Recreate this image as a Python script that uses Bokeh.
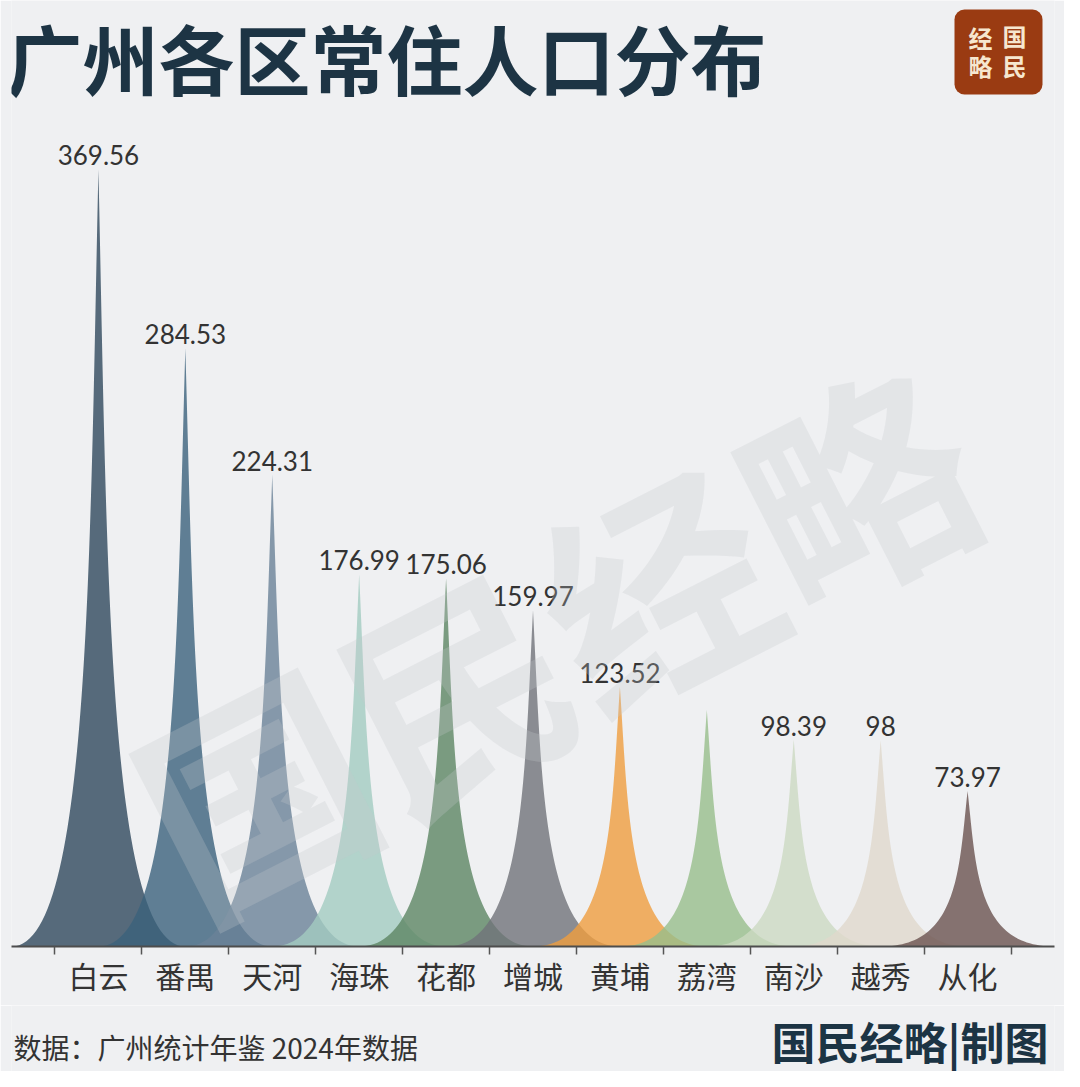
import numpy as np
from bokeh.plotting import figure
from bokeh.layouts import column
from bokeh.models import (ColumnDataSource, Range1d, LinearAxis, FixedTicker,
                          Label, BoxAnnotation)
from bokeh.core.properties import value
from bokeh.embed import file_html
from bokeh.resources import INLINE

# ---- data ----
districts = ["白云", "番禺", "天河", "海珠", "花都", "增城", "黄埔", "荔湾", "南沙", "越秀", "从化"]
population = [369.56, 284.53, 224.31, 176.99, 175.06, 159.97, 123.52, 112.5, 98.39, 98.0, 73.97]
value_labels = ["369.56", "284.53", "224.31", "176.99", "175.06", "159.97", "123.52", "", "98.39", "98", "73.97"]
colors = ["#30485d", "#3b617c", "#6a8297", "#a3ccc1", "#5d8663", "#717379",
          "#ef9d3e", "#97be8b", "#ccd9c2", "#e0d8cc", "#6a524f"]
title_text = "广州各区常住人口分布"
source_text = "数据：广州统计年鉴 2024年数据"
credit_text = "国民经略|制图"

BG = "#eff0f2"
W = 1064
H_MAIN = 1005
H_FOOT = 66

p = figure(width=W, height=H_MAIN, output_backend="svg", toolbar_location=None,
           x_range=Range1d(-1, 11), y_range=Range1d(0, 449.9),
           min_border_left=11, min_border_right=10, min_border_top=0, min_border_bottom=H_MAIN - 946,
           x_axis_location=None, y_axis_location=None)
p.background_fill_color = BG
p.border_fill_color = BG
p.outline_line_color = None
p.grid.visible = False

# spike (pictorial) shapes built from each value: cubic bezier sides
t = np.linspace(0, 1, 60)
half_w = 1.0
xs, ys = [], []
for i, h in enumerate(population):
    rx = half_w * ((1 - t) ** 3 + 0.3 * t * (1 - t))
    ry = h * (1.5 * (1 - t) * t ** 2 + t ** 3)
    x = np.concatenate([i + rx, (i - rx)[::-1]])
    y = np.concatenate([ry, ry[::-1]])
    xs.append(x.tolist())
    ys.append(y.tolist())

src = ColumnDataSource(dict(xs=xs, ys=ys, color=colors))
p.patches("xs", "ys", source=src, fill_color="color", fill_alpha=0.8, line_color=None)

# value labels
lsrc = ColumnDataSource(dict(x=list(range(len(districts))), y=population, text=value_labels))
p.text("x", "y", text="text", source=lsrc, text_align="center", text_baseline="alphabetic",
       y_offset=-14, text_font=value("Lato"), text_font_size="26px", text_color="#333333")

# category axis
ax = LinearAxis(ticker=FixedTicker(ticks=list(range(len(districts))),
                                   minor_ticks=[i - 0.5 for i in range(len(districts) + 1)]))
ax.major_label_overrides = {i: d for i, d in enumerate(districts)}
ax.major_tick_out = 0
ax.major_tick_in = 0
ax.minor_tick_out = 8
ax.minor_tick_in = 0
ax.minor_tick_line_color = "#555555"
ax.minor_tick_line_width = 1.5
ax.axis_line_color = "#4d4d4d"
ax.axis_line_width = 2
ax.major_label_text_font = "Noto Sans CJK SC"
ax.major_label_text_font_size = "30px"
ax.major_label_text_color = "#333333"
ax.major_label_standoff = -2
p.add_layout(ax, "below")

# watermark
p.add_layout(Label(x=541, y=314, x_units="screen", y_units="screen", text="国民经略",
                   angle=27, angle_units="deg", text_align="center", text_baseline="middle",
                   text_font="Noto Sans CJK SC", text_font_style="bold", text_font_size="225px",
                   text_color="#c3c7cd", text_alpha=0.27))

# title
p.add_layout(Label(x=-5, y=890, x_units="screen", y_units="screen", text=title_text,
                   text_baseline="middle", text_font="Noto Sans CJK SC", text_font_style="bold",
                   text_font_size="76px", text_color="#1d3444"))

# logo
p.add_layout(BoxAnnotation(left=943, right=1031, top=937, bottom=852,
                           left_units="screen", right_units="screen",
                           top_units="screen", bottom_units="screen",
                           fill_color="#9a3b12", fill_alpha=1, line_color=None, border_radius=10))
for ch, sx, sy in [("经", 969, 909), ("国", 1003, 911), ("略", 969, 881), ("民", 1003, 881)]:
    p.add_layout(Label(x=sx, y=sy, x_units="screen", y_units="screen", text=ch,
                       text_align="center", text_baseline="middle", text_font="Noto Sans CJK SC",
                       text_font_style="bold", text_font_size="24px", text_color="#f6e7cf"))

# footer figure
f = figure(width=W, height=H_FOOT, output_backend="svg", toolbar_location=None,
           x_range=Range1d(0, W), y_range=Range1d(0, H_FOOT),
           min_border=0, x_axis_location=None, y_axis_location=None)
f.background_fill_color = BG
f.border_fill_color = BG
f.outline_line_color = None
f.grid.visible = False
f.text(x=[2], y=[25], text=[source_text], text_baseline="middle", text_align="left",
       text_font=value("Noto Sans CJK SC"), text_font_size="28px", text_color="#333333")
f.text(x=[1058], y=[31], text=[credit_text], text_baseline="middle", text_align="right",
       text_font=value("Noto Sans CJK SC"), text_font_style="bold", text_font_size="44px",
       text_color="#1c3444")

layout = column(p, f, spacing=0)
open("out.html", "w").write(file_html(layout, INLINE))
